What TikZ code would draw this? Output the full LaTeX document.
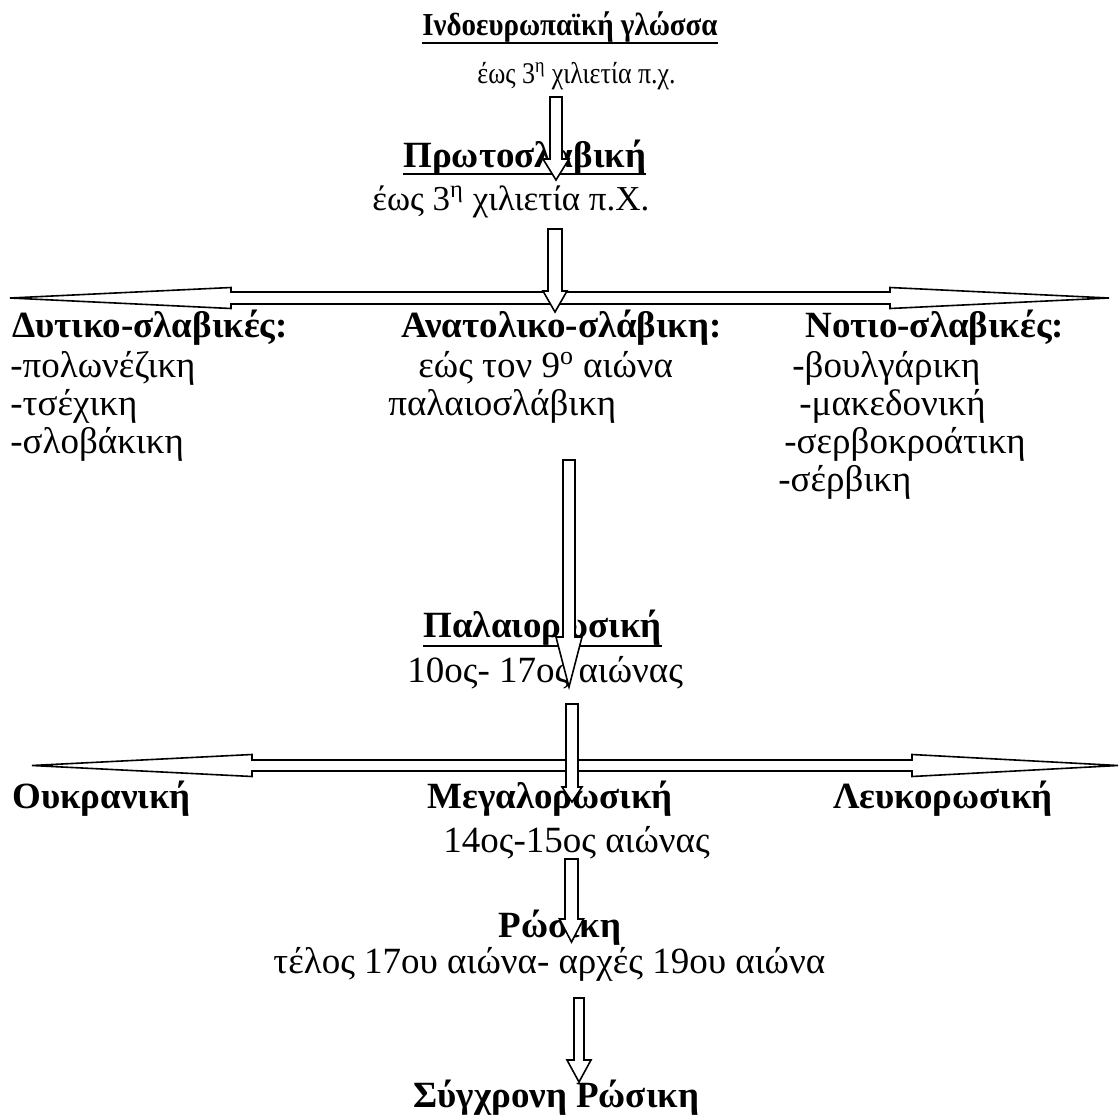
\documentclass[tikz,border=0pt]{standalone}
\usepackage{fontspec}
\setmainfont{Liberation Serif}
\tikzset{
  txt/.style={inner sep=0pt, anchor=base west, font=\fontsize{18.5}{21}\selectfont},
  btxt/.style={txt, font=\fontsize{18.5}{21}\selectfont\bfseries},
  blockarrow/.style={draw=black, fill=white, line width=0.8pt, line join=miter},
  uline/.style={line width=1.3pt}
}
\newcommand\vArrow[6]{% cx, top, headstart, tip, shafthalf, headhalf
  \draw[blockarrow] ({#1-#5},{#2}) -- ({#1+#5},{#2}) -- ({#1+#5},{#3}) -- ({#1+#6},{#3})
     -- ({#1},{#4}) -- ({#1-#6},{#3}) -- ({#1-#5},{#3}) -- cycle;}
\newcommand\hArrow[7]{% cy, lefttip, leftbase, rightbase, righttip, shafthalf, headhalf
  \draw[blockarrow] ({#2},{#1}) -- ({#3},{#1-#7}) -- ({#3},{#1-#6}) -- ({#4},{#1-#6})
     -- ({#4},{#1-#7}) -- ({#5},{#1}) -- ({#4},{#1+#7}) -- ({#4},{#1+#6})
     -- ({#3},{#1+#6}) -- ({#3},{#1+#7}) -- cycle;}
\begin{document}
\begin{tikzpicture}[x=0.5pt,y=-0.5pt]
\useasboundingbox[fill=white] (0,0) rectangle (1120,1120);

% texts
\node[btxt, anchor=base east, font=\fontsize{16}{19}\selectfont\bfseries] (ie) at (718,35) {\scalebox{0.905}[1]{Ινδοευρωπαϊκή γλώσσα}};
\node[txt, font=\fontsize{15}{18}\selectfont] (ied) at (477,83) {\scalebox{0.865}[1]{έως 3\textsuperscript{η} χιλιετία π.χ.}};
\node[btxt] (ps) at (403,167) {Πρωτοσλαβική};
\node[txt, font=\fontsize{17.5}{20}\selectfont] (psd) at (372,210) {έως 3\textsuperscript{η} χιλιετία π.Χ.};

\node[btxt] (west) at (12,337) {Δυτικο-σλαβικές:};
\node[txt] (w1) at (10,377) {-πολωνέζικη};
\node[txt] (w2) at (10,415) {-τσέχικη};
\node[txt] (w3) at (10,453) {-σλοβάκικη};

\node[btxt] (east) at (401,337) {Ανατολικο-σλάβικη:};
\node[txt] (e1) at (418,377) {εώς τον 9\textsuperscript{ο} αιώνα};
\node[txt] (e2) at (388,415) {παλαιοσλάβικη};

\node[btxt] (south) at (805,337) {Νοτιο-σλαβικές:};
\node[txt] (s1) at (792,377) {-βουλγάρικη};
\node[txt] (s2) at (799,415) {-μακεδονική};
\node[txt] (s3) at (784,453) {-σερβοκροάτικη};
\node[txt] (s4) at (778,491) {-σέρβικη};

\node[btxt] (or) at (423,637) {Παλαιορωσική};
\node[txt] (ord) at (407,682) {10ος- 17ος αιώνας};

\node[btxt] (ukr) at (12,808) {Ουκρανική};
\node[btxt] (meg) at (427,808) {Μεγαλορωσική};
\node[btxt] (lef) at (833,808) {Λευκορωσική};
\node[txt] (megd) at (443,852) {14ος-15ος αιώνας};

\node[btxt] (ru) at (498,937) {Ρώσικη};
\node[txt] (rud) at (273,973) {τέλος 17ου αιώνα- αρχές 19ου αιώνα};
\node[btxt] (mod) at (413,1107) {Σύγχρονη Ρώσικη};

% underlines
\draw[uline] ([yshift=-4pt]ie.base west) -- ([yshift=-4pt]ie.base east);
\draw[uline] ([yshift=-3.5pt]ps.base west) -- ([yshift=-3.5pt]ps.base east);
\draw[uline] ([yshift=-4.5pt]or.base west) -- ([yshift=-4.5pt]or.base east);

% arrows
\vArrow{556}{97}{159}{180}{6}{13}
\hArrow{298}{10}{231}{890}{1109}{6}{10.5}
\vArrow{555}{229}{291}{312}{7}{12}
\vArrow{569}{460}{637}{687}{6}{13}
\hArrow{765.5}{32}{252}{912}{1118}{5.5}{11}
\vArrow{572}{704}{787}{802}{6}{10}
\vArrow{571.5}{859}{919}{942}{6.5}{12}
\vArrow{579}{998}{1060}{1082}{5}{12}
\end{tikzpicture}
\end{document}
